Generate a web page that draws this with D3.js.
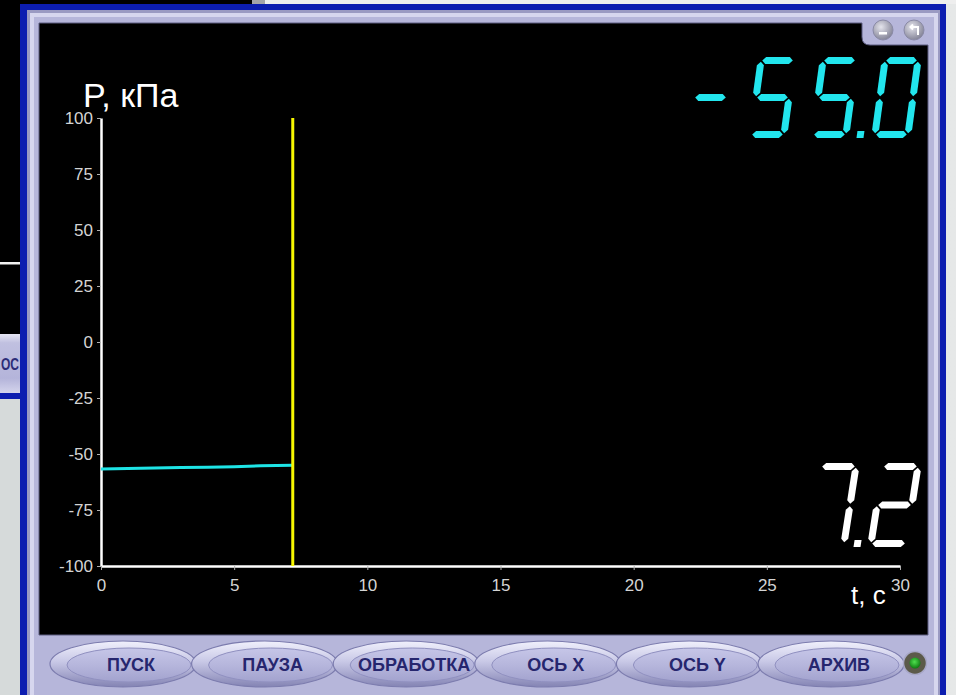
<!DOCTYPE html>
<html>
<head>
<meta charset="utf-8">
<script src="https://cdn.jsdelivr.net/npm/d3@7"></script>
<style>
  html, body { margin: 0; padding: 0; background: #dcdede; }
  svg { display: block; }
  text { font-family: "Liberation Sans", Arial, sans-serif; }
</style>
</head>
<body>
<svg id="scope" width="956" height="695"></svg>
<script>
// Recorded pressure trace (time in seconds, pressure in kPa)
const timeS = [0, 1, 2, 3, 4, 5, 6, 7.2];
const pressureKPa = [-56.7, -56.5, -56.3, -56.0, -55.9, -55.7, -55.3, -55.0];

// Axis ticks
const xTickValues = [0, 5, 10, 15, 20, 25, 30];
const yTickValues = [-100, -75, -50, -25, 0, 25, 50, 75, 100];

// Axis titles
const yTitle = "P, кПа";
const xTitle = "t, с";

// Control panel buttons
const buttonLabels = ["ПУСК", "ПАУЗА", "ОБРАБОТКА", "ОСЬ X", "ОСЬ Y", "АРХИВ"];

const W = 956, H = 695;
const svg = d3.select("#scope");
const defs = svg.append("defs");

function linGrad(id, stops, vertical = true) {
  const g = defs.append("linearGradient").attr("id", id)
    .attr("x1", 0).attr("y1", 0)
    .attr("x2", vertical ? 0 : 1).attr("y2", vertical ? 1 : 0);
  stops.forEach(([o, c]) => g.append("stop").attr("offset", o).attr("stop-color", c));
}
linGrad("pageGrad", [[0, "#d2d6d6"], [1, "#e6e8e8"]], false);
linGrad("ringGrad", [[0, "#f0f0fc"], [0.45, "#c8c8e6"], [1, "#8484b4"]]);
linGrad("faceGrad", [[0, "#c6c6e8"], [0.5, "#b6b6dc"], [1, "#a2a2ce"]]);
linGrad("sideBtnGrad", [[0, "#e6e6f4"], [0.15, "#c0c0e0"], [0.75, "#b4b4da"], [1, "#d4d4ec"]]);
const knob = defs.append("radialGradient").attr("id", "knobGrad")
  .attr("cx", "40%").attr("cy", "35%").attr("r", "70%");
knob.append("stop").attr("offset", 0).attr("stop-color", "#e4e4ec");
knob.append("stop").attr("offset", 1).attr("stop-color", "#7e7e92");
const led = defs.append("radialGradient").attr("id", "ledGrad")
  .attr("cx", "45%").attr("cy", "40%").attr("r", "60%");
led.append("stop").attr("offset", 0).attr("stop-color", "#4ee04e");
led.append("stop").attr("offset", 1).attr("stop-color", "#0f7a12");

// plain hyphen-minus for every number on screen
const num = d => String(d);

// ---------- desktop behind the window ----------
svg.append("rect").attr("width", W).attr("height", H).attr("fill", "url(#pageGrad)");
svg.append("rect").attr("x", 0).attr("y", 0).attr("width", 252).attr("height", 4).attr("fill", "#000");
svg.append("rect").attr("x", 252).attr("y", 0).attr("width", 13).attr("height", 4).attr("fill", "#a4a4a8");
svg.append("rect").attr("x", 265).attr("y", 0).attr("width", W - 265).attr("height", 4).attr("fill", "#eeeeee");

// neighbouring window on the left
svg.append("rect").attr("x", 0).attr("y", 0).attr("width", 22).attr("height", 334).attr("fill", "#000");
svg.append("rect").attr("x", 0).attr("y", 262).attr("width", 22).attr("height", 2.5).attr("fill", "#f2f2f2");
svg.append("rect").attr("x", 0).attr("y", 334).attr("width", 22).attr("height", 59).attr("fill", "url(#sideBtnGrad)");
svg.append("text").attr("x", 1).attr("y", 370)
  .attr("font-size", 16).attr("font-weight", "bold").attr("fill", "#2c2c78")
  .attr("textLength", 18).attr("lengthAdjust", "spacingAndGlyphs").text("ОС");
svg.append("rect").attr("x", 0).attr("y", 393).attr("width", 22).attr("height", 6).attr("fill", "#0c1db0");
svg.append("rect").attr("x", 0).attr("y", 399).attr("width", 22).attr("height", H - 399).attr("fill", "#d6dada");

// ---------- instrument window frame ----------
svg.append("rect").attr("x", 20).attr("y", 4).attr("width", 926).attr("height", H).attr("fill", "#0c1db0");
svg.append("rect").attr("x", 27).attr("y", 10).attr("width", 913).attr("height", H).attr("fill", "#9a9ac2");
svg.append("rect").attr("x", 30).attr("y", 13).attr("width", 908).attr("height", H).attr("fill", "#d6d6ee");
svg.append("rect").attr("x", 34).attr("y", 17).attr("width", 900).attr("height", H).attr("fill", "#b6b6da");

// black display area with the notch for the window buttons
const L = 39, T = 23, R = 928, B = 635;
svg.append("path")
  .attr("d", `M${L},${T} H862 V37 Q862,45 870,45 H${R} V${B} H${L} Z`)
  .attr("fill", "#000").attr("stroke", "#5c5c80").attr("stroke-width", 1);

// window buttons (minimise / restore)
const wb = svg.append("g");
[[883, 30], [914, 30]].forEach(([cx, cy]) => {
  wb.append("circle").attr("cx", cx).attr("cy", cy).attr("r", 10)
    .attr("fill", "url(#knobGrad)").attr("stroke", "#8a8aa6").attr("stroke-width", 1);
});
wb.append("rect").attr("x", 879).attr("y", 32).attr("width", 8).attr("height", 2.5).attr("fill", "#fff");
wb.append("path").attr("d", "M918,35 V27 H911 M913,24.5 L910.5,27 L913,29.5")
  .attr("fill", "none").attr("stroke", "#fff").attr("stroke-width", 2);

// ---------- chart ----------
const x = d3.scaleLinear().domain([0, 30]).range([101, 900]);
const y = d3.scaleLinear().domain([-100, 100]).range([566, 118]);

const yAxis = svg.append("g").attr("transform", `translate(${x(0)},0)`)
  .call(d3.axisLeft(y).tickValues(yTickValues).tickFormat(num)
    .tickSize(4).tickSizeOuter(0).tickPadding(4));
const xAxis = svg.append("g").attr("transform", `translate(0,${y(-100)})`)
  .call(d3.axisBottom(x).tickValues(xTickValues).tickFormat(num)
    .tickSize(4).tickSizeOuter(0).tickPadding(9));
[yAxis, xAxis].forEach(a => {
  a.select(".domain").attr("stroke", "#ffffff").attr("stroke-width", 2.5);
  a.selectAll(".tick line").attr("stroke", "#b0b0b0").attr("stroke-width", 1);
  a.selectAll(".tick text").attr("fill", "#d4d4d4").attr("font-size", 17)
    .attr("font-family", "'Liberation Sans', Arial, sans-serif");
});

svg.append("text").attr("x", 83).attr("y", 107).attr("font-size", 34).attr("fill", "#ffffff").text(yTitle);
svg.append("text").attr("x", 851).attr("y", 604).attr("font-size", 26).attr("fill", "#ffffff").text(xTitle);

// pressure trace
const trace = timeS.map((t, i) => [t, pressureKPa[i]]);
svg.append("path").datum(trace)
  .attr("d", d3.line().x(d => x(d[0])).y(d => y(d[1])))
  .attr("fill", "none").attr("stroke", "#1ee4e6").attr("stroke-width", 3);

// time cursor at the latest sample
const tNow = timeS[timeS.length - 1];
svg.append("line")
  .attr("x1", x(tNow)).attr("x2", x(tNow)).attr("y1", y(100)).attr("y2", y(-100))
  .attr("stroke", "#f6f600").attr("stroke-width", 3);

// ---------- seven-segment readouts ----------
const SEGMENTS = {
  "0": "abcdef", "1": "bc", "2": "abged", "3": "abgcd", "4": "fgbc",
  "5": "afgcd", "6": "afgedc", "7": "abc", "8": "abcdefg", "9": "abcdfg", "-": "g"
};
function segPoly(seg, w, h, t) {
  const g = 1.2, m = h / 2, ht = t / 2;
  const horiz = (yc) => [[ht + g, yc], [t + g, yc - ht], [w - t - g, yc - ht], [w - ht - g, yc],
                         [w - t - g, yc + ht], [t + g, yc + ht]];
  const vert = (xc, y1, y2) => [[xc, y1], [xc + ht, y1 + ht], [xc + ht, y2 - ht], [xc, y2],
                                [xc - ht, y2 - ht], [xc - ht, y1 + ht]];
  switch (seg) {
    case "a": return horiz(ht);
    case "g": return horiz(m);
    case "d": return horiz(h - ht);
    case "f": return vert(ht, ht + g, m - g);
    case "e": return vert(ht, m + g, h - ht - g);
    case "b": return vert(w - ht, ht + g, m - g);
    case "c": return vert(w - ht, m + g, h - ht - g);
  }
}
function sevenSegment(str, o) {
  const chars = str.split("");
  const cells = chars.filter(c => c !== ".").length;
  const g = svg.append("g")
    .attr("transform", `translate(${o.right - o.w - (cells - 1) * o.pitch},${o.top}) skewX(${-Math.atan(o.slant / o.h) * 180 / Math.PI})`)
    .attr("fill", o.color);
  let i = -1;
  chars.forEach(c => {
    if (c === ".") {
      const cx = i * o.pitch + o.w + (o.pitch - o.w) / 2;
      g.append("rect").attr("x", cx - o.t / 2).attr("y", o.h - o.t).attr("width", o.t).attr("height", o.t);
      return;
    }
    i += 1;
    const cell = g.append("g").attr("transform", `translate(${i * o.pitch},0)`);
    (SEGMENTS[c] || "").split("").forEach(s => {
      cell.append("polygon").attr("points", segPoly(s, o.w, o.h, o.t).map(p => p.join(",")).join(" "));
    });
  });
}
const oneDecimal = v => v.toFixed(1);
sevenSegment(oneDecimal(pressureKPa[pressureKPa.length - 1]),
  { right: 922, top: 57, w: 40, h: 81, t: 7, slant: 11, pitch: 62, color: "#22e6ee" });
sevenSegment(oneDecimal(tNow),
  { right: 922, top: 463, w: 42, h: 84, t: 7, slant: 13, pitch: 62, color: "#ffffff" });

// ---------- control panel ----------
const bx = d3.scaleLinear().domain([0, buttonLabels.length - 1]).range([123, 831]);
const panel = svg.append("g");
buttonLabels.forEach((label, i) => {
  const cx = bx(i), cy = 664;
  panel.append("ellipse").attr("cx", cx).attr("cy", cy).attr("rx", 73).attr("ry", 23)
    .attr("fill", "url(#ringGrad)").attr("stroke", "#7c7cae").attr("stroke-width", 1.2);
  panel.append("ellipse").attr("cx", cx + 6).attr("cy", cy + 1).attr("rx", 62).attr("ry", 17)
    .attr("fill", "url(#faceGrad)").attr("stroke", "#9090c0").attr("stroke-width", 1);
  panel.append("text").attr("x", cx + 8).attr("y", cy + 7).attr("text-anchor", "middle")
    .attr("font-size", 18).attr("font-weight", "bold").attr("fill", "#26266e").text(label);
});
// status lamp
panel.append("circle").attr("cx", 915).attr("cy", 663).attr("r", 11.5)
  .attr("fill", "#5c5a4a").attr("stroke", "#a8a8c8").attr("stroke-width", 1.5);
panel.append("circle").attr("cx", 915).attr("cy", 663).attr("r", 5.5).attr("fill", "url(#ledGrad)");
</script>
</body>
</html>
